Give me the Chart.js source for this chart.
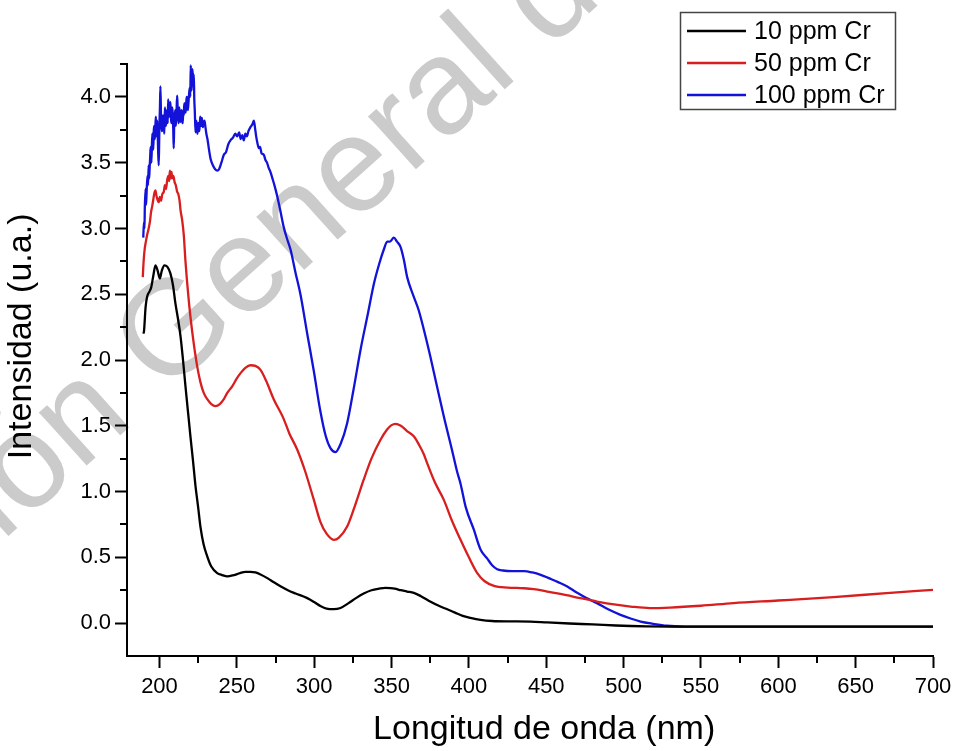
<!DOCTYPE html>
<html><head><meta charset="utf-8">
<script src="https://cdn.jsdelivr.net/npm/chart.js@4.4.1/dist/chart.umd.min.js"></script>
<style>html,body{margin:0;padding:0;background:#fff;}#wrap{width:958px;height:751px;}</style>
</head><body><div id="wrap"><canvas id="c" width="958" height="751"></canvas></div>
<script>
const seriesLabels = ['10 ppm Cr', '50 ppm Cr', '100 ppm Cr'];
const seriesColors = ['#000000', '#d81e1e', '#1212d8'];

const wl10 = [189.5,190.0,191.0,192.0,193.5,194.6,196.0,197.4,198.8,200.2,201.5,203.2,205.0,207.0,208.7,210.3,212.0,213.6,215.2,216.8,218.4,220.0,221.7,223.3,225.0,226.5,228.5,230.8,233.5,237.3,240.5,243.8,248,252,255.5,258.8,262,265.3,270,274,278.2,283,288,295.5,300,304,308,312.7,317,322,327,332,337,342,346,349.2,352,356,360,364.4,369,374,381.6,386,391,396,401,407.5,415,425,439.8,450.6,465,480,495,504.5,515,530,560,600,650,700];
const int10 = [2.20,2.22,2.40,2.48,2.52,2.55,2.64,2.72,2.68,2.62,2.68,2.72,2.71,2.66,2.57,2.43,2.31,2.18,2.00,1.80,1.61,1.42,1.23,1.04,0.88,0.73,0.60,0.51,0.43,0.38,0.365,0.355,0.365,0.38,0.39,0.39,0.385,0.37,0.34,0.31,0.28,0.25,0.225,0.19,0.16,0.13,0.11,0.106,0.115,0.15,0.19,0.225,0.25,0.262,0.268,0.266,0.262,0.25,0.24,0.23,0.205,0.17,0.126,0.105,0.08,0.055,0.04,0.025,0.016,0.013,0.012,0.005,-0.003,-0.01,-0.018,-0.022,-0.025,-0.026,-0.026,-0.026,-0.026,-0.026];

const wl50 = [189.2,189.8,190.5,191.2,192.0,193.0,193.8,194.5,195.3,196.0,196.7,197.4,198.0,198.7,199.5,200.2,201.0,201.8,202.8,203.5,204.2,205.0,205.7,206.3,206.7,207.3,207.8,208.2,209.0,209.8,210.5,211.4,212.2,213.0,213.6,214.7,215.7,216.8,218.4,220,222.2,224.4,226.5,228.6,231,233.5,236.2,239,241.5,243.8,247,250,252.4,255.5,258.8,262,265.3,269,273.9,280,284,289,294,299.7,304,308,312.7,316,321.3,326,332,337,342.7,347,350,352.6,356,360,364.4,368,371,373,378,383.8,389,394.6,400,405.4,410,416.2,425,435.6,442,450.6,460,472,482.8,495,504.5,517,530,550,571,600,635.7,670,700];
const int50 = [2.63,2.76,2.85,2.90,2.95,3.00,3.05,3.12,3.17,3.22,3.27,3.29,3.25,3.22,3.20,3.24,3.21,3.26,3.28,3.33,3.30,3.37,3.40,3.36,3.44,3.38,3.43,3.38,3.40,3.35,3.33,3.28,3.26,3.21,3.14,3.06,2.95,2.75,2.52,2.33,2.12,1.95,1.83,1.75,1.70,1.665,1.65,1.665,1.70,1.75,1.80,1.86,1.90,1.94,1.96,1.955,1.925,1.84,1.70,1.56,1.44,1.32,1.16,0.94,0.77,0.68,0.633,0.65,0.734,0.88,1.09,1.25,1.39,1.47,1.505,1.515,1.50,1.46,1.42,1.35,1.28,1.216,1.07,0.937,0.78,0.633,0.50,0.38,0.32,0.283,0.27,0.265,0.258,0.24,0.22,0.19,0.164,0.14,0.126,0.114,0.118,0.132,0.152,0.172,0.198,0.228,0.253];

const wl100 = [189.5,190.0,190.3,190.5,191.0,191.3,191.6,192.2,192.6,193.0,193.3,193.6,194.0,194.3,194.8,195.3,195.7,196.0,196.3,196.6,197.0,197.4,197.7,198.0,198.3,198.6,199.1,199.5,199.8,200.0,200.3,200.6,201.0,201.4,201.8,202.2,202.8,203.1,203.5,203.8,204.2,204.6,205.0,205.3,205.6,206.0,206.3,206.7,207.1,207.4,207.8,208.2,208.5,208.9,209.2,209.5,209.8,210.2,210.6,211.0,211.4,211.7,212.0,212.4,212.8,213.2,213.6,214.0,214.3,214.7,215.0,215.4,215.7,216.0,216.4,216.8,217.2,217.5,217.9,218.3,218.7,219.1,219.6,219.9,220.2,220.5,220.8,221.0,221.3,221.7,222.2,222.5,222.8,223.3,223.7,224.0,224.3,224.6,225.0,225.4,225.8,226.3,226.6,227.0,227.3,227.6,228.0,228.5,229.1,229.7,230.3,231.0,232.0,233.0,234.5,236.0,237.3,238.5,240.0,241.6,243.0,244.5,245.9,247.5,249.0,250.2,251.5,252.5,253.5,254.5,255.5,256.5,257.5,258.8,260.0,261.0,261.8,262.5,263.3,264.2,265.0,266.0,267.4,268.5,269.5,270.6,271.7,273.0,274.5,276.0,278.2,280.3,282.5,284.7,288.0,291.1,295.5,299.7,304.0,307.5,310.5,313.8,317.0,321.3,325.5,330.0,334.5,338.6,342.0,345.0,347.2,349.0,351.5,353.5,355.8,358.0,360.1,364.4,367.5,370.9,375,379,383.8,389,392.4,394.6,398,403.2,407.5,411.9,415,418.3,422,428,435.6,441,446.4,452,458,463.6,470,476,482.8,490,498,504.5,511,519,528,540,560,600,650,700];
const int100 = [2.93,3.05,3.00,3.15,3.30,3.18,3.25,3.40,3.33,3.48,3.38,3.45,3.55,3.62,3.50,3.72,3.66,3.60,3.74,3.78,3.68,3.79,3.85,3.70,3.77,3.82,3.60,3.48,3.66,3.80,3.92,4.08,3.85,3.74,3.75,3.86,3.81,3.72,3.92,3.84,3.78,3.88,3.90,3.80,3.98,3.90,3.85,3.93,3.96,3.84,3.80,3.92,3.88,3.75,3.61,3.78,3.85,3.90,3.78,3.88,4.01,3.93,3.86,3.80,3.92,3.84,3.81,3.88,3.90,3.82,3.80,3.90,3.86,3.95,3.95,3.88,3.92,4.00,3.99,3.90,3.95,4.02,4.07,4.00,4.24,4.10,4.05,4.15,4.21,4.12,4.17,3.98,3.90,3.73,3.82,3.80,3.76,3.72,3.80,3.79,3.74,3.85,3.80,3.78,3.84,3.82,3.77,3.80,3.82,3.77,3.72,3.68,3.60,3.53,3.48,3.45,3.44,3.45,3.50,3.56,3.58,3.64,3.67,3.69,3.72,3.70,3.73,3.68,3.71,3.67,3.72,3.70,3.74,3.77,3.79,3.82,3.76,3.70,3.65,3.61,3.62,3.57,3.56,3.52,3.50,3.46,3.43,3.38,3.32,3.25,3.13,3.01,2.92,2.84,2.66,2.50,2.20,1.92,1.61,1.42,1.33,1.30,1.36,1.52,1.78,2.08,2.34,2.58,2.73,2.84,2.90,2.90,2.93,2.90,2.86,2.76,2.63,2.48,2.38,2.23,2.03,1.82,1.57,1.32,1.15,1.06,0.88,0.71,0.56,0.49,0.44,0.41,0.40,0.395,0.395,0.385,0.367,0.34,0.31,0.278,0.23,0.19,0.152,0.105,0.063,0.035,0.012,-0.005,-0.02,-0.026,-0.027,-0.027,-0.027,-0.027];

const xTickValues = [200,250,300,350,400,450,500,550,600,650,700];
const xMinorValues = [225,275,325,375,425,475,525,575,625,675];
const yTickValues = [0,0.5,1.0,1.5,2.0,2.5,3.0,3.5,4.0];
const yMinorValues = [0.25,0.75,1.25,1.75,2.25,2.75,3.25,3.75,4.25];
const xTitle = '   Longitud de onda (nm)';
const yTitle = '     Intensidad (u.a.)';
const watermarkText = 'Dirección General de Bibliotecas UAQ';

const FONT = '"Liberation Sans", Arial, Helvetica, sans-serif';

function pts(xs, ys){ return xs.map((x,i)=>({x:x, y:ys[i]})); }

const watermarkPlugin = {
  id:'watermark',
  beforeDraw(chart){
    const ctx = chart.ctx;
    ctx.save();
    ctx.font = '135px ' + FONT;
    ctx.fillStyle = '#cbcbcb';
    const pre = ctx.measureText('Direcci').width;
    ctx.translate(24, 522);
    ctx.rotate(-42*Math.PI/180);
    ctx.textBaseline = 'alphabetic';
    ctx.fillText(watermarkText, -pre, 0);
    ctx.restore();
  }
};

const minorTickPlugin = {
  id:'minorTicks',
  afterDraw(chart){
    const ctx = chart.ctx, xs = chart.scales.x, ys = chart.scales.y, ca = chart.chartArea;
    ctx.save();
    ctx.strokeStyle = '#000'; ctx.lineWidth = 2;
    ctx.beginPath();
    xMinorValues.forEach(v=>{ const p = Math.round(xs.getPixelForValue(v)); ctx.moveTo(p, ca.bottom); ctx.lineTo(p, ca.bottom+7); });
    yMinorValues.forEach(v=>{ const p = Math.round(ys.getPixelForValue(v)); ctx.moveTo(ca.left, p); ctx.lineTo(ca.left-7, p); });
    ctx.stroke();
    ctx.restore();
  }
};

const boxLegendPlugin = {
  id:'boxLegend',
  afterDraw(chart){
    const ctx = chart.ctx;
    const bx = 680, by = 12, bw = 215, bh = 97;
    ctx.save();
    ctx.fillStyle = '#fff';
    ctx.fillRect(bx, by, bw, bh);
    ctx.strokeStyle = '#444'; ctx.lineWidth = 1.5;
    ctx.strokeRect(bx+0.5, by+0.5, bw, bh);
    ctx.font = '25px ' + FONT;
    ctx.textBaseline = 'middle';
    chart.data.datasets.forEach((ds,i)=>{
      const y = by + 19 + i*32;
      ctx.strokeStyle = ds.borderColor; ctx.lineWidth = 2.5;
      ctx.beginPath(); ctx.moveTo(bx+7, y); ctx.lineTo(bx+66, y); ctx.stroke();
      ctx.fillStyle = '#000';
      ctx.fillText(ds.label, bx+74, y+1);
    });
    ctx.restore();
  }
};

const datasets = [
  {label: seriesLabels[0], data: pts(wl10, int10), borderColor: seriesColors[0]},
  {label: seriesLabels[1], data: pts(wl50, int50), borderColor: seriesColors[1]},
  {label: seriesLabels[2], data: pts(wl100, int100), borderColor: seriesColors[2]}
].map(d=>Object.assign(d,{borderWidth:2.3, pointRadius:0, fill:false, cubicInterpolationMode:'monotone'}));

new Chart(document.getElementById('c'), {
  type:'line',
  data:{datasets: datasets},
  options:{
    responsive:false, animation:false, devicePixelRatio:1,
    layout:{padding:{top:64, right:25, left:0, bottom:0}},
    plugins:{legend:{display:false}, tooltip:{enabled:false}},
    scales:{
      x:{
        type:'linear', min:179, max:700,
        afterBuildTicks(s){ s.ticks = xTickValues.map(v=>({value:v})); },
        afterFit(s){ s.height = 95; },
        grid:{drawOnChartArea:false, drawTicks:true, tickLength:12, tickWidth:2, tickColor:'#000'},
        border:{display:true, color:'#000', width:2},
        ticks:{color:'#000', font:{family:FONT, size:22}, padding:6, maxRotation:0, autoSkip:false, callback:v=>String(v)},
        title:{display:true, text:xTitle, color:'#000', font:{family:FONT, size:34}, padding:{top:0,bottom:1}}
      },
      y:{
        type:'linear', min:-0.25, max:4.25,
        afterBuildTicks(s){ s.ticks = yTickValues.map(v=>({value:v})); },
        afterFit(s){ s.width = 127; },
        grid:{drawOnChartArea:false, drawTicks:true, tickLength:12, tickWidth:2, tickColor:'#000'},
        border:{display:true, color:'#000', width:2},
        ticks:{color:'#000', font:{family:FONT, size:22}, padding:4, autoSkip:false, callback:v=>Number(v).toFixed(1)},
        title:{display:true, text:yTitle, color:'#000', font:{family:FONT, size:34}, padding:{top:1,bottom:0}}
      }
    }
  },
  plugins:[watermarkPlugin, minorTickPlugin, boxLegendPlugin]
});
</script></body></html>
